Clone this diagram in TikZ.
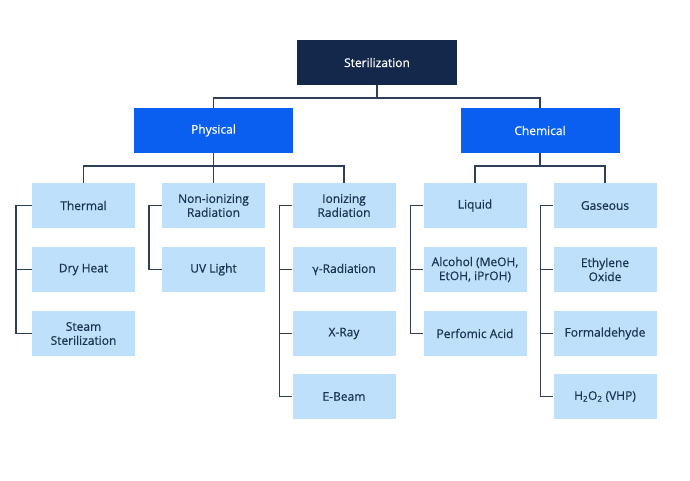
\documentclass[tikz,border=0pt]{standalone}
\usepackage{fontspec}
\setmainfont{Open Sans}[FakeBold=0.6]
\newfontfamily\greekfont{DejaVu Sans}[FakeBold=0.4]
\usepackage{tikz}
\definecolor{navy}{HTML}{14284B}
\definecolor{brightblue}{HTML}{0A5EF0}
\definecolor{paleblue}{HTML}{BEE0FA}
\definecolor{inktext}{HTML}{1B3452}
\definecolor{wire}{HTML}{2E3F57}

\begin{document}
\begin{tikzpicture}[x=1pt, y=-1pt,
    rootbox/.style={fill=navy, text=white, minimum width=160pt, minimum height=45pt, inner sep=0pt, font=\fontsize{12}{13}\selectfont},
    groupbox/.style={fill=brightblue, text=white, minimum width=159pt, minimum height=45pt, inner sep=0pt, font=\fontsize{12}{13}\selectfont},
    leafbox/.style={fill=paleblue, text=inktext, minimum width=103pt, minimum height=45pt, inner sep=0pt, align=center, font=\fontsize{12}{14}\selectfont},
    link/.style={draw=wire, line width=1.5pt}]

    %% Background
    \useasboundingbox (0,0) rectangle (690,480);

    % Top
    \node[rootbox] (ster) at (377,62.5) {Sterilization};

    % Groups
    \node[groupbox] (phys) at (213.5,130.5) {Physical};
    \node[groupbox] (chem) at (540,130.5) {Chemical};

    % Physical
    \node[leafbox] (therm) at (83.5,205.5) {Thermal};
    \node[leafbox] (dry) at (83.5,269.5) {Dry Heat};
    \node[leafbox] (steam) at (83.5,333.5) {Steam\\Sterilization};

    \node[leafbox] (nonion) at (213.5,205.5) {Non-ionizing\\Radiation};
    \node[leafbox] (uv) at (213.5,269.5) {UV Light};

    \node[leafbox] (ion) at (344,205.5) {Ionizing\\Radiation};
    \node[leafbox] (gamma) at (344,269.5) {{\greekfont\fontsize{11}{13}\selectfont γ}-Radiation};
    \node[leafbox] (xray) at (344,333.5) {X-Ray};
    \node[leafbox] (ebeam) at (344,396.5) {E-Beam};

    % Chemical
    \node[leafbox] (liq) at (475,205.5) {Liquid};
    \node[leafbox] (alc) at (475,269.5) {Alcohol (MeOH,\\EtOH, iPrOH)};
    \node[leafbox] (perf) at (475,333.5) {Perfomic Acid};

    \node[leafbox] (gas) at (605,205.5) {Gaseous};
    \node[leafbox] (eto) at (605,269.5) {Ethylene\\Oxide};
    \node[leafbox] (form) at (605,333.5) {Formaldehyde};
    \node[leafbox] (vhp) at (605,396.5) {H\textsubscript{2}O\textsubscript{2} (VHP)};

    % Tree links
    \draw[link] (ster.south) -- ++(0,13) -| (phys.north);
    \draw[link] (ster.south) -- ++(0,13) -| (chem.north);

    \draw[link] (phys.south) -- ++(0,13) -| (therm.north);
    \draw[link] (phys.south) -- (nonion.north);
    \draw[link] (phys.south) -- ++(0,13) -| (ion.north);

    \draw[link] (chem.south) -- ++(0,13) -| (liq.north);
    \draw[link] (chem.south) -- ++(0,13) -| (gas.north);

    % Side brackets
    \draw[link] (therm.west) -- ++(-16,0) |- (steam.west);
    \draw[link] (dry.west) -- ++(-16,0);

    \draw[link] (nonion.west) -- ++(-13,0) |- (uv.west);

    \draw[link] (ion.west) -- ++(-13,0) |- (ebeam.west);
    \draw[link] (gamma.west) -- ++(-13,0);
    \draw[link] (xray.west) -- ++(-13,0);

    \draw[link] (liq.west) -- ++(-13,0) |- (perf.west);
    \draw[link] (alc.west) -- ++(-13,0);

    \draw[link] (gas.west) -- ++(-13,0) |- (vhp.west);
    \draw[link] (eto.west) -- ++(-13,0);
    \draw[link] (form.west) -- ++(-13,0);

\end{tikzpicture}
\end{document}
